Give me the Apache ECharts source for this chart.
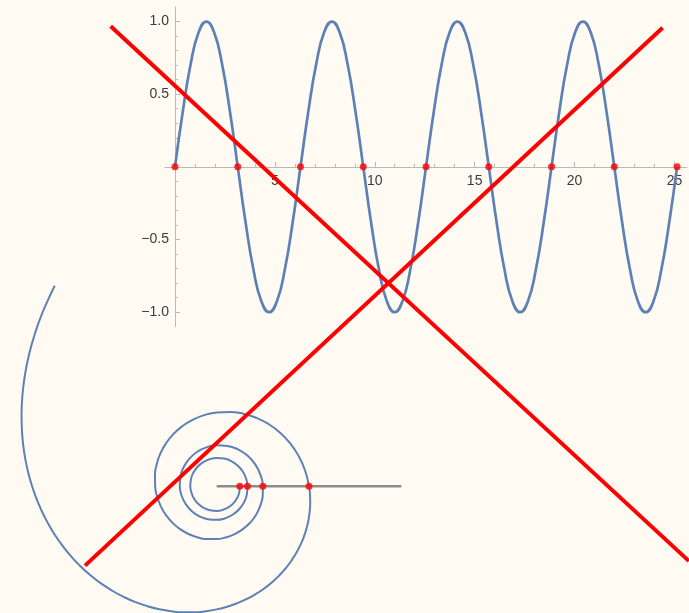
<!DOCTYPE html>
<html>
<head>
<meta charset="utf-8">
<script src="https://cdn.jsdelivr.net/npm/echarts@6/dist/echarts.min.js"></script>
<style>
  html, body { margin: 0; padding: 0; background: #fffaf2; }
  #chart { width: 689px; height: 613px; }
</style>
</head>
<body>
<div id="chart"></div>
<script>
// y = sin x, sampled every π/8 on [0, 8π]
const sineX = [
  0, 0.393, 0.785, 1.178, 1.571, 1.963, 2.356, 2.749,
  3.142, 3.534, 3.927, 4.320, 4.712, 5.105, 5.498, 5.890,
  6.283, 6.676, 7.069, 7.461, 7.854, 8.247, 8.639, 9.032,
  9.425, 9.817, 10.210, 10.603, 10.996, 11.388, 11.781, 12.174,
  12.566, 12.959, 13.352, 13.744, 14.137, 14.530, 14.923, 15.315,
  15.708, 16.101, 16.493, 16.886, 17.279, 17.671, 18.064, 18.457,
  18.850, 19.242, 19.635, 20.028, 20.420, 20.813, 21.206, 21.598,
  21.991, 22.384, 22.777, 23.169, 23.562, 23.955, 24.347, 24.740,
  25.133
];
const sineY = [
  0, 0.383, 0.707, 0.924, 1, 0.924, 0.707, 0.383,
  0, -0.383, -0.707, -0.924, -1, -0.924, -0.707, -0.383,
  0, 0.383, 0.707, 0.924, 1, 0.924, 0.707, 0.383,
  0, -0.383, -0.707, -0.924, -1, -0.924, -0.707, -0.383,
  0, 0.383, 0.707, 0.924, 1, 0.924, 0.707, 0.383,
  0, -0.383, -0.707, -0.924, -1, -0.924, -0.707, -0.383,
  0, 0.383, 0.707, 0.924, 1, 0.924, 0.707, 0.383,
  0, -0.383, -0.707, -0.924, -1, -0.924, -0.707, -0.383,
  0
];
// zeros of sin x on [0, 8π]
const zeroX = [0, 3.142, 6.283, 9.425, 12.566, 15.708, 18.850, 21.991, 25.133];

// tick labels of the two axes
const xTickLabels = [5, 10, 15, 20, 25];
const yTickLabels = [-1.0, -0.5, 0.5, 1.0];

// hyperbolic spiral r = 1/θ: angle in degrees and radius
// (5° steps on the wide outer turn, 10° on the second, 15° further in)
const spiralAngle = [
  128.9, 130, 135, 140, 145, 150, 155, 160, 165, 170, 175, 180, 185, 190, 195, 200,
  205, 210, 215, 220, 225, 230, 235, 240, 245, 250, 255, 260, 265, 270, 275, 280,
  285, 290, 295, 300, 305, 310, 315, 320, 325, 330, 335, 340, 345, 350, 355, 360,
  370, 380, 390, 400, 410, 420, 430, 440, 450, 460, 470, 480, 490, 500, 510, 520,
  530, 540, 550, 560, 570, 580, 590, 600, 610, 620, 630, 640, 650, 660, 670, 680,
  690, 700, 710, 720,
  735, 750, 765, 780, 795, 810, 825, 840, 855, 870, 885, 900, 915, 930, 945, 960,
  975, 990, 1005, 1020, 1035, 1050, 1065, 1080, 1095, 1110, 1125, 1140, 1155, 1170, 1185, 1200,
  1215, 1230, 1245, 1260, 1275, 1290, 1305, 1320, 1335, 1350, 1365, 1380, 1395, 1410, 1425, 1440
];
const spiralRadius = [
  0.4445, 0.44074, 0.42441, 0.40926, 0.39514, 0.38197, 0.36965, 0.35810, 0.34725, 0.33703, 0.32740, 0.31831, 0.30971, 0.30156, 0.29382, 0.28648,
  0.27949, 0.27284, 0.26649, 0.26044, 0.25465, 0.24911, 0.24381, 0.23873, 0.23386, 0.22918, 0.22469, 0.22037, 0.21621, 0.21221, 0.20835, 0.20463,
  0.20104, 0.19757, 0.19422, 0.19099, 0.18786, 0.18483, 0.18189, 0.17905, 0.17630, 0.17362, 0.17103, 0.16852, 0.16607, 0.16370, 0.16140, 0.15915,
  0.15485, 0.15078, 0.14691, 0.14324, 0.13975, 0.13642, 0.13325, 0.13022, 0.12732, 0.12456, 0.12191, 0.11937, 0.11693, 0.11459, 0.11234, 0.11018,
  0.10811, 0.10610, 0.10417, 0.10231, 0.10052, 0.09879, 0.09711, 0.09549, 0.09393, 0.09241, 0.09095, 0.08952, 0.08815, 0.08681, 0.08552, 0.08426,
  0.08304, 0.08185, 0.08070, 0.07958,
  0.07795, 0.07639, 0.07490, 0.07346, 0.07207, 0.07074, 0.06945, 0.06821, 0.06701, 0.06586, 0.06474, 0.06366, 0.06262, 0.06161, 0.06063, 0.05968,
  0.05876, 0.05787, 0.05701, 0.05617, 0.05536, 0.05457, 0.05380, 0.05305, 0.05232, 0.05162, 0.05093, 0.05026, 0.04961, 0.04897, 0.04835, 0.04775,
  0.04716, 0.04658, 0.04602, 0.04547, 0.04494, 0.04442, 0.04390, 0.04341, 0.04292, 0.04244, 0.04198, 0.04152, 0.04107, 0.04064, 0.04021, 0.03979
];
// gray ray along θ = 0 and the spiral's crossings of it (θ = 2π, 4π, 6π, 8π)
const rayRadius = [0, 0.3183];
const crossingRadius = [0.15915, 0.07958, 0.05305, 0.03979];

// two red strokes crossing the figure, in the sine plot's units
const strokeA = [[-3.22, 0.968], [25.73, -2.713]];
const strokeB = [[24.41, 0.957], [-4.505, -2.744]];

// ---- layout ----
const W = 689, H = 613;
const X_MIN = -0.5, X_MAX = 25.63, Y_MIN = -1.1, Y_MAX = 1.1;
const plotLeft = 165, plotTop = 7, plotWidth = 522, plotHeight = 319.7;
const pxPerX = plotWidth / (X_MAX - X_MIN);
const pxPerY = plotHeight / (Y_MAX - Y_MIN);
const originX = plotLeft + (0 - X_MIN) * pxPerX;   // pixel of x = 0
const originY = plotTop + (Y_MAX - 0) * pxPerY;    // pixel of y = 0

// spiral frame: pole position and pixels per unit radius
const pole = [216.7, 486.3];
const pxPerR = 580;
const SP_X = [-0.35, 0.35], SP_Y = [-0.2, 0.36];

const blue = '#5e81b5';
const red = '#ff0000';
const axisGray = '#b9b9b9';
const labelFont = { fontFamily: 'Liberation Sans, Arial, sans-serif', fontSize: 14, color: '#3c3c3c' };

function fmtY(v) {
  const hit = yTickLabels.find(t => Math.abs(t - v) < 1e-9);
  if (hit === undefined) return '';
  return (hit < 0 ? '\u2212' : '') + Math.abs(hit).toFixed(1);
}
function fmtX(v) {
  const hit = xTickLabels.find(t => Math.abs(t - v) < 1e-9);
  return hit === undefined ? '' : String(hit);
}
const hidden = { show: false };
function hiddenAxis(gridIndex, min, max) {
  return { gridIndex, type: 'value', min, max, show: false,
           axisLine: { show: false, onZero: false }, splitLine: hidden };
}

const spiralData = spiralAngle.map((a, i) => {
  const t = a * Math.PI / 180;
  return [spiralRadius[i] * Math.cos(t), spiralRadius[i] * Math.sin(t)];
});

const chart = echarts.init(document.getElementById('chart'), null, { renderer: 'canvas' });

chart.setOption({
  backgroundColor: '#fffaf2',
  animation: false,
  grid: [
    // 0: sine plot (axis lines and data)
    { left: plotLeft, top: plotTop, width: plotWidth, height: plotHeight },
    // 1: y ticks and labels, y ∈ [−1, 1], left edge at x = 0
    { left: originX, top: plotTop + (Y_MAX - 1) * pxPerY, width: 25 * pxPerX, height: 2 * pxPerY },
    // 2: x ticks and labels, x ∈ [0, 25], bottom edge at y = 0
    { left: originX, top: originY - 100, width: 25 * pxPerX, height: 100 },
    // 3: whole canvas in the sine plot's units (red strokes)
    { left: 0, top: 0, width: W, height: H },
    // 4: spiral frame, equal scale on both axes
    { left: pole[0] + SP_X[0] * pxPerR, top: pole[1] - SP_Y[1] * pxPerR,
      width: (SP_X[1] - SP_X[0]) * pxPerR, height: (SP_Y[1] - SP_Y[0]) * pxPerR }
  ],
  xAxis: [
    {
      gridIndex: 0, type: 'value', min: X_MIN, max: X_MAX,
      axisLine: { show: true, onZero: true, lineStyle: { color: axisGray, width: 1 } },
      axisTick: hidden, axisLabel: hidden, splitLine: hidden
    },
    hiddenAxis(1, 0, 25),
    {
      gridIndex: 2, type: 'value', min: 0, max: 25, interval: 5, position: 'bottom',
      axisLine: { show: false, onZero: false },
      axisTick: { show: true, inside: true, length: 5, lineStyle: { color: axisGray } },
      minorTick: { show: true, splitNumber: 5, length: 3, lineStyle: { color: axisGray } },
      axisLabel: Object.assign({ margin: 7, formatter: fmtX }, labelFont),
      splitLine: hidden, minorSplitLine: hidden
    },
    hiddenAxis(3, X_MIN - plotLeft / pxPerX, X_MIN + (W - plotLeft) / pxPerX),
    hiddenAxis(4, SP_X[0], SP_X[1])
  ],
  yAxis: [
    {
      gridIndex: 0, type: 'value', min: Y_MIN, max: Y_MAX,
      axisLine: { show: true, onZero: true, lineStyle: { color: axisGray, width: 1 } },
      axisTick: hidden, axisLabel: hidden, splitLine: hidden
    },
    {
      gridIndex: 1, type: 'value', min: -1, max: 1, interval: 0.5, position: 'left',
      axisLine: { show: false, onZero: false },
      axisTick: { show: true, inside: true, length: 5, lineStyle: { color: axisGray } },
      minorTick: { show: true, splitNumber: 5, length: 3, lineStyle: { color: axisGray } },
      axisLabel: Object.assign({ margin: 6, formatter: fmtY }, labelFont),
      splitLine: hidden, minorSplitLine: hidden
    },
    hiddenAxis(2, 0, 1),
    hiddenAxis(3, Y_MIN - (H - plotTop - plotHeight) / pxPerY, Y_MAX + plotTop / pxPerY),
    hiddenAxis(4, SP_Y[0], SP_Y[1])
  ],
  series: [
    {
      name: 'sin x', type: 'line', xAxisIndex: 0, yAxisIndex: 0,
      data: sineX.map((x, i) => [x, sineY[i]]),
      smooth: true, showSymbol: false, symbol: 'none',
      lineStyle: { color: blue, width: 2.7 }, z: 2
    },
    {
      name: 'zeros', type: 'scatter', xAxisIndex: 0, yAxisIndex: 0,
      data: zeroX.map(x => [x, 0]), clip: false,
      symbolSize: 7, itemStyle: { color: red }, z: 4
    },
    {
      name: 'spiral', type: 'line', xAxisIndex: 4, yAxisIndex: 4,
      data: spiralData,
      smooth: true, showSymbol: false, symbol: 'none', clip: false,
      lineStyle: { color: blue, width: 2, join: 'round' }, z: 2
    },
    {
      name: 'ray', type: 'line', xAxisIndex: 4, yAxisIndex: 4,
      data: rayRadius.map(r => [r, 0]),
      showSymbol: false, symbol: 'none', clip: false,
      lineStyle: { color: '#8c8c8c', width: 2.5 }, z: 3
    },
    {
      name: 'crossings', type: 'scatter', xAxisIndex: 4, yAxisIndex: 4,
      data: crossingRadius.map(r => [r, 0]),
      symbolSize: 7, itemStyle: { color: red }, z: 4
    },
    {
      name: 'stroke A', type: 'line', xAxisIndex: 3, yAxisIndex: 3,
      data: strokeA, showSymbol: false, symbol: 'none', clip: false,
      lineStyle: { color: red, width: 4, cap: 'butt' }, z: 6
    },
    {
      name: 'stroke B', type: 'line', xAxisIndex: 3, yAxisIndex: 3,
      data: strokeB, showSymbol: false, symbol: 'none', clip: false,
      lineStyle: { color: red, width: 4, cap: 'butt' }, z: 6
    }
  ]
});
</script>
</body>
</html>
